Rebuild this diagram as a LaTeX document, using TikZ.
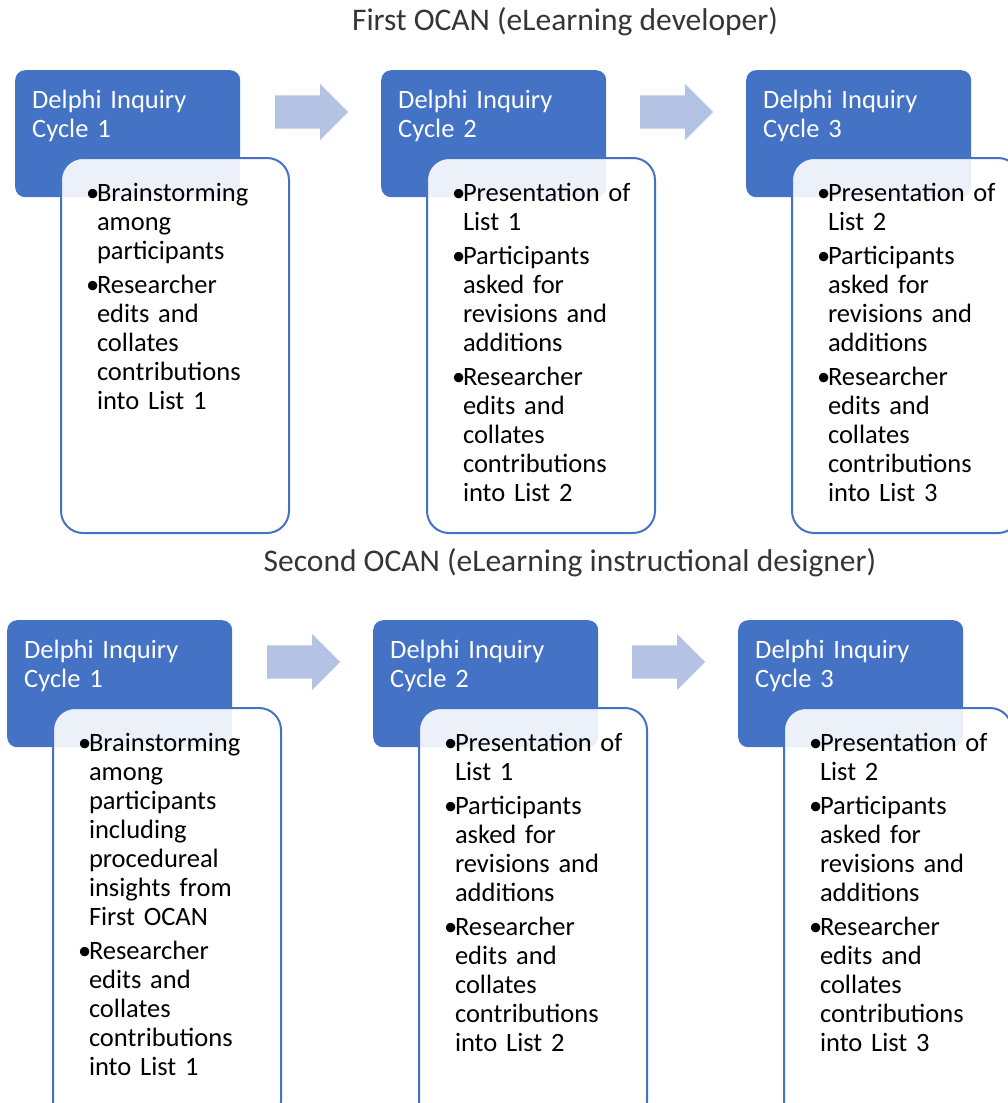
\documentclass[tikz,border=0pt]{standalone}
\usepackage{fontspec}
\setmainfont{Carlito}
\usepackage{tikz}
\usetikzlibrary{shapes.arrows}
\usepackage{xcolor}
\definecolor{CycleBlue}{HTML}{4472C4}
\definecolor{ArrowTint}{HTML}{B4C2E3}
\definecolor{TitleGrey}{HTML}{353535}
\newcommand{\bul}{\hspace*{11pt}\makebox[11pt][l]{\textbullet}}
\newcommand{\bcont}{\hspace*{22pt}}

\begin{document}
\begin{tikzpicture}[x=1pt,y=-1pt,
        head/.style={fill=CycleBlue,rounded corners=10pt,anchor=north west,
                     text=white,align=left,text width=191pt,inner xsep=17pt,inner ysep=16pt,
                     text height=22pt,text depth=73pt,font=\fontsize{26.5}{29}\selectfont},
        body/.style={draw=CycleBlue,line width=2pt,rounded corners=22pt,anchor=north west,
                     fill=white,fill opacity=0.9,text opacity=1,
                     align=left,text width=200pt,inner xsep=14pt,inner ysep=14pt,
                     text height=29pt,text depth=318pt,font=\fontsize{26.5}{29}\selectfont},
        longbody/.style={body,text depth=358pt},
        fat/.style={single arrow,fill=ArrowTint,draw=none,inner sep=0pt,inner ysep=16.5pt,
                    minimum height=73pt,minimum width=56pt,single arrow head extend=11.5pt,
                    anchor=west},
        title/.style={text=TitleGrey,font=\fontsize{31.5}{36}\selectfont,inner sep=0pt}]
      \useasboundingbox (0,0) rectangle (1008,1103);
      % first OCAN
      \node[title] (titleA) at (565,22) {First OCAN (eLearning developer)};
      \node[head] (headA1) at (15,70)  {Delphi Inquiry\\Cycle 1};
      \node[head] (headA2) at (381,70) {Delphi Inquiry\\Cycle 2};
      \node[head] (headA3) at (746,70) {Delphi Inquiry\\Cycle 3};
      \node[fat] (arrA1) at (275,112) {};
      \node[fat] (arrA2) at (640,112) {};
      \node[body] (bodyA1) at (60,157) {\bul Brainstorming\\ \bcont among\\ \bcont participants\\[5pt]
        \bul Researcher\\ \bcont edits and\\ \bcont collates\\ \bcont contributions\\ \bcont into List 1};
      \node[body] (bodyA2) at (426,157) {\bul Presentation of\\ \bcont List 1\\[5pt]
        \bul Participants\\ \bcont asked for\\ \bcont revisions and\\ \bcont additions\\[5pt]
        \bul Researcher\\ \bcont edits and\\ \bcont collates\\ \bcont contributions\\ \bcont into List 2};
      \node[body] (bodyA3) at (791,157) {\bul Presentation of\\ \bcont List 2\\[5pt]
        \bul Participants\\ \bcont asked for\\ \bcont revisions and\\ \bcont additions\\[5pt]
        \bul Researcher\\ \bcont edits and\\ \bcont collates\\ \bcont contributions\\ \bcont into List 3};
      % second OCAN
      \node[title] (titleB) at (570,563) {Second OCAN (eLearning instructional designer)};
      \node[head] (headB1) at (7,620)   {Delphi Inquiry\\Cycle 1};
      \node[head] (headB2) at (373,620) {Delphi Inquiry\\Cycle 2};
      \node[head] (headB3) at (738,620) {Delphi Inquiry\\Cycle 3};
      \node[fat] (arrB1) at (267,662) {};
      \node[fat] (arrB2) at (632,662) {};
      \node[longbody] (bodyB1) at (52,707) {\bul Brainstorming\\ \bcont among\\ \bcont participants\\
        \bcont including\\ \bcont procedureal\\ \bcont insights from\\ \bcont First OCAN\\[5pt]
        \bul Researcher\\ \bcont edits and\\ \bcont collates\\ \bcont contributions\\ \bcont into List 1};
      \node[longbody] (bodyB2) at (418,707) {\bul Presentation of\\ \bcont List 1\\[5pt]
        \bul Participants\\ \bcont asked for\\ \bcont revisions and\\ \bcont additions\\[5pt]
        \bul Researcher\\ \bcont edits and\\ \bcont collates\\ \bcont contributions\\ \bcont into List 2};
      \node[longbody] (bodyB3) at (783,707) {\bul Presentation of\\ \bcont List 2\\[5pt]
        \bul Participants\\ \bcont asked for\\ \bcont revisions and\\ \bcont additions\\[5pt]
        \bul Researcher\\ \bcont edits and\\ \bcont collates\\ \bcont contributions\\ \bcont into List 3};
    \end{tikzpicture}
\end{document}
